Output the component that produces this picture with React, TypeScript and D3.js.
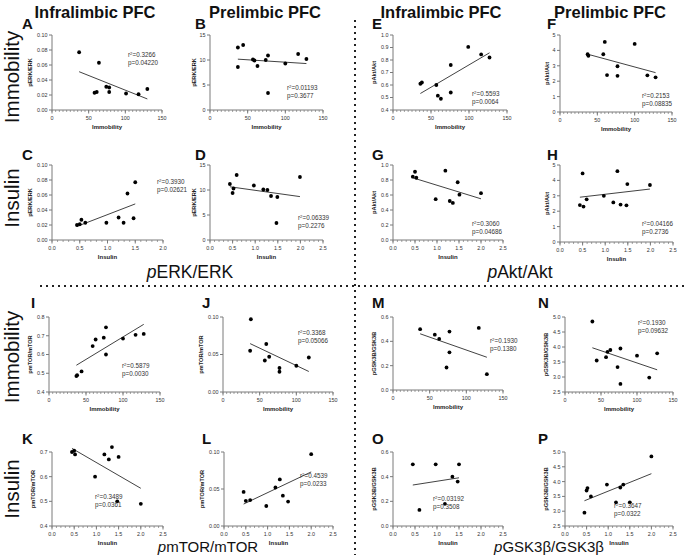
import * as d3 from 'd3';

const FONT = '"Liberation Sans", Arial, Helvetica, sans-serif';

// tick values
const immobilityTicks = [0, 50, 100, 150];
const insulinTicks20 = [0, 0.5, 1.0, 1.5, 2.0];
const insulinTicks25 = [0, 0.5, 1.0, 1.5, 2.0, 2.5];
const erkRatioTicks = [0, 0.02, 0.04, 0.06, 0.08, 0.1];
const erkTicks = [0, 5, 10, 15];
const aktImmTicks = [0.4, 0.5, 0.6, 0.7, 0.8, 0.9, 1.0];
const aktTicks = [0, 1, 2, 3, 4, 5];
const aktInsTicks = [0, 0.2, 0.4, 0.6, 0.8, 1.0];
const mtorImmTicks = [0.4, 0.5, 0.6, 0.7, 0.8];
const mtorTicks = [0, 0.05, 0.1];
const mtorInsTicks = [0.4, 0.5, 0.6, 0.7];
const gskTicks = [0, 0.2, 0.4, 0.6];
const gskHighTicks = [2.5, 3.0, 3.5, 4.0, 4.5, 5.0];

// [x, y] points
const pointsA = [[37, 0.077], [58, 0.023], [61, 0.024], [64, 0.063], [74, 0.031], [78, 0.03], [78, 0.024], [101, 0.022], [118, 0.021], [130, 0.028]];
const pointsB = [[37, 12.5], [37, 8.6], [44, 13.0], [57, 10.1], [59, 9.9], [63, 8.8], [74, 10.0], [77, 10.9], [77, 3.4], [100, 9.3], [117, 11.2], [128, 10.2]];
const pointsC = [[0.45, 0.02], [0.5, 0.021], [0.53, 0.027], [0.6, 0.023], [0.98, 0.023], [1.2, 0.03], [1.29, 0.023], [1.36, 0.062], [1.47, 0.029], [1.5, 0.077]];
const pointsD = [[0.44, 11.2], [0.5, 9.4], [0.52, 10.3], [0.59, 13.0], [0.97, 10.9], [1.18, 10.1], [1.27, 10.0], [1.35, 8.8], [1.49, 8.6], [1.47, 3.4], [1.99, 12.6]];
const pointsE = [[36, 0.61], [38, 0.62], [57, 0.6], [59, 0.515], [63, 0.49], [76, 0.76], [76, 0.54], [99, 0.905], [116, 0.845], [127, 0.82]];
const pointsF = [[37, 3.75], [38, 3.65], [58, 3.75], [60, 4.55], [63, 2.4], [77, 2.97], [77, 2.35], [100, 4.42], [117, 2.38], [128, 2.25]];
const pointsG = [[0.45, 0.845], [0.5, 0.91], [0.53, 0.83], [0.97, 0.545], [1.19, 0.925], [1.29, 0.52], [1.36, 0.495], [1.47, 0.77], [1.51, 0.605], [2.0, 0.625]];
const pointsH = [[0.44, 2.4], [0.5, 4.45], [0.52, 2.3], [0.59, 2.77], [0.97, 3.0], [1.18, 2.57], [1.27, 4.6], [1.34, 2.43], [1.47, 2.38], [1.49, 3.76], [1.99, 3.7]];
const pointsI = [[37, 0.485], [38, 0.49], [44, 0.51], [59, 0.645], [63, 0.68], [74, 0.69], [77, 0.745], [77, 0.6], [100, 0.685], [117, 0.705], [128, 0.71]];
const pointsJ = [[37, 0.055], [38, 0.097], [57, 0.042], [59, 0.064], [63, 0.047], [77, 0.032], [77, 0.027], [100, 0.035], [117, 0.046]];
const pointsK = [[0.45, 0.7], [0.5, 0.705], [0.52, 0.69], [0.97, 0.6], [1.18, 0.69], [1.28, 0.67], [1.35, 0.72], [1.47, 0.5], [1.5, 0.68], [2.0, 0.49]];
const pointsL = [[0.45, 0.046], [0.5, 0.034], [0.6, 0.035], [0.97, 0.027], [1.18, 0.052], [1.28, 0.063], [1.35, 0.041], [1.47, 0.033], [2.0, 0.097]];
const pointsM = [[37, 0.5], [57, 0.455], [63, 0.42], [73, 0.185], [77, 0.48], [77, 0.31], [117, 0.51], [128, 0.13]];
const pointsN = [[38, 4.85], [44, 3.55], [57, 3.66], [59, 3.84], [63, 3.9], [73, 3.33], [77, 3.95], [77, 2.77], [100, 3.71], [117, 2.98], [128, 3.79]];
const pointsO = [[0.45, 0.5], [0.6, 0.13], [0.97, 0.5], [1.18, 0.18], [1.35, 0.4], [1.47, 0.36], [1.5, 0.5]];
const pointsP = [[0.45, 2.95], [0.5, 3.7], [0.52, 3.78], [0.6, 3.5], [0.97, 3.9], [1.18, 3.3], [1.28, 3.8], [1.35, 3.9], [1.5, 3.3], [2.0, 4.85]];

// r squared / p values as printed
const r2Values = { A: '0.3266', B: '0.01193', C: '0.3930', D: '0.06339', E: '0.5593', F: '0.2153', G: '0.3060', H: '0.04166', I: '0.5879', J: '0.3368', K: '0.3489', L: '0.4539', M: '0.1930', N: '0.1930', O: '0.03192', P: '0.3647' };
const pValues = { A: '0.04220', B: '0.3677', C: '0.02621', D: '0.2276', E: '0.0064', F: '0.08835', G: '0.04686', H: '0.2736', I: '0.0030', J: '0.05066', K: '0.0361', L: '0.0233', M: '0.1380', N: '0.09632', O: '0.3508', P: '0.0322' };

const headers = ['Infralimbic PFC', 'Prelimbic PFC', 'Infralimbic PFC', 'Prelimbic PFC'];
const rowNames = ['Immobility', 'Insulin', 'Immobility', 'Insulin'];

type Spec = {
  id: string; pts: number[][]; x0: number; x1: number; y0: number; y1: number;
  xTicks: number[]; xMinor: number; xDec: number; yTicks: number[]; yDec: number;
  yTitle: string; xTitle: string; lx: number; ly: number; sx: number; sy: number;
};

const panels: Spec[] = [
  { id: 'A', pts: pointsA, x0: 52, x1: 162, y0: 35, y1: 110, xTicks: immobilityTicks, xMinor: 5, xDec: 0, yTicks: erkRatioTicks, yDec: 2, yTitle: 'pERK/ERK', xTitle: 'Immobility', lx: 22, ly: 29, sx: 128, sy: 57 },
  { id: 'B', pts: pointsB, x0: 210, x1: 323, y0: 35, y1: 110, xTicks: immobilityTicks, xMinor: 5, xDec: 0, yTicks: erkTicks, yDec: 0, yTitle: 'pERK/ERK', xTitle: 'Immobility', lx: 195, ly: 29, sx: 287, sy: 90 },
  { id: 'E', pts: pointsE, x0: 393, x1: 507, y0: 35, y1: 110, xTicks: immobilityTicks, xMinor: 5, xDec: 0, yTicks: aktImmTicks, yDec: 1, yTitle: 'pAkt/Akt', xTitle: 'Immobility', lx: 372, ly: 29, sx: 472, sy: 96 },
  { id: 'F', pts: pointsF, x0: 560, x1: 672, y0: 35, y1: 112, xTicks: immobilityTicks, xMinor: 5, xDec: 0, yTicks: aktTicks, yDec: 0, yTitle: 'pAkt/Akt', xTitle: 'Immobility', lx: 547, ly: 29, sx: 642, sy: 98 },
  { id: 'C', pts: pointsC, x0: 52, x1: 163, y0: 165, y1: 240, xTicks: insulinTicks20, xMinor: 0.1, xDec: 1, yTicks: erkRatioTicks, yDec: 2, yTitle: 'pERK/ERK', xTitle: 'Insulin', lx: 22, ly: 160, sx: 157, sy: 184 },
  { id: 'D', pts: pointsD, x0: 210, x1: 323, y0: 165, y1: 240, xTicks: insulinTicks25, xMinor: 0.1, xDec: 1, yTicks: erkTicks, yDec: 0, yTitle: 'pERK/ERK', xTitle: 'Insulin', lx: 195, ly: 160, sx: 298, sy: 220 },
  { id: 'G', pts: pointsG, x0: 393, x1: 503, y0: 165, y1: 240, xTicks: insulinTicks25, xMinor: 0.1, xDec: 1, yTicks: aktInsTicks, yDec: 1, yTitle: 'pAkt/Akt', xTitle: 'Insulin', lx: 372, ly: 160, sx: 472, sy: 226 },
  { id: 'H', pts: pointsH, x0: 560, x1: 673, y0: 165, y1: 242, xTicks: insulinTicks25, xMinor: 0.1, xDec: 1, yTicks: aktTicks, yDec: 0, yTitle: 'pAkt/Akt', xTitle: 'Insulin', lx: 547, ly: 160, sx: 642, sy: 226 },
  { id: 'I', pts: pointsI, x0: 49, x1: 160, y0: 317, y1: 392, xTicks: immobilityTicks, xMinor: 5, xDec: 0, yTicks: mtorImmTicks, yDec: 1, yTitle: 'pmTOR/mTOR', xTitle: 'Immobility', lx: 31, ly: 308, sx: 122, sy: 368 },
  { id: 'J', pts: pointsJ, x0: 223, x1: 333, y0: 317, y1: 392, xTicks: immobilityTicks, xMinor: 5, xDec: 0, yTicks: mtorTicks, yDec: 2, yTitle: 'pmTOR/mTOR', xTitle: 'Immobility', lx: 202, ly: 308, sx: 298, sy: 335 },
  { id: 'M', pts: pointsM, x0: 393, x1: 503, y0: 317, y1: 390, xTicks: immobilityTicks, xMinor: 5, xDec: 0, yTicks: gskTicks, yDec: 1, yTitle: 'pGSK3B/GSK3B', xTitle: 'Immobility', lx: 372, ly: 308, sx: 490, sy: 343 },
  { id: 'N', pts: pointsN, x0: 565, x1: 673, y0: 317, y1: 392, xTicks: immobilityTicks, xMinor: 5, xDec: 0, yTicks: gskHighTicks, yDec: 1, yTitle: 'pGSK3B/GSK3B', xTitle: 'Immobility', lx: 538, ly: 308, sx: 638, sy: 325 },
  { id: 'K', pts: pointsK, x0: 52, x1: 163, y0: 452, y1: 526, xTicks: insulinTicks25, xMinor: 0.1, xDec: 1, yTicks: mtorInsTicks, yDec: 1, yTitle: 'pmTOR/mTOR', xTitle: 'Insulin', lx: 22, ly: 444, sx: 95, sy: 499 },
  { id: 'L', pts: pointsL, x0: 224, x1: 333, y0: 452, y1: 526, xTicks: insulinTicks25, xMinor: 0.1, xDec: 1, yTicks: mtorTicks, yDec: 2, yTitle: 'pmTOR/mTOR', xTitle: 'Insulin', lx: 202, ly: 444, sx: 300, sy: 478 },
  { id: 'O', pts: pointsO, x0: 393, x1: 503, y0: 452, y1: 526, xTicks: insulinTicks25, xMinor: 0.1, xDec: 1, yTicks: gskTicks, yDec: 1, yTitle: 'pGSK3B/GSK3B', xTitle: 'Insulin', lx: 372, ly: 444, sx: 433, sy: 501 },
  { id: 'P', pts: pointsP, x0: 565, x1: 673, y0: 452, y1: 526, xTicks: insulinTicks25, xMinor: 0.1, xDec: 1, yTicks: gskHighTicks, yDec: 1, yTitle: 'pGSK3B/GSK3B', xTitle: 'Insulin', lx: 538, ly: 444, sx: 614, sy: 508 },
];

const AXIS = '#7a7a7a';

function Panel({ p }: { p: Spec }) {
  const xDom = [p.xTicks[0], p.xTicks[p.xTicks.length - 1]];
  const yDom = [p.yTicks[0], p.yTicks[p.yTicks.length - 1]];
  const x = d3.scaleLinear().domain(xDom).range([p.x0, p.x1]);
  const y = d3.scaleLinear().domain(yDom).range([p.y1, p.y0]);
  const minor = d3.range(Math.round((xDom[1] - xDom[0]) / p.xMinor) + 1).map((i) => xDom[0] + i * p.xMinor);

  // least squares fit
  const xs = p.pts.map((d) => d[0]);
  const ys = p.pts.map((d) => d[1]);
  const mx = d3.mean(xs) as number;
  const my = d3.mean(ys) as number;
  const slope = d3.sum(p.pts, (d) => (d[0] - mx) * (d[1] - my)) / d3.sum(xs, (v) => (v - mx) ** 2);
  const icpt = my - slope * mx;
  const [xa, xb] = d3.extent(xs) as [number, number];
  const fit = d3.line()([[x(xa), y(icpt + slope * xa)], [x(xb), y(icpt + slope * xb)]]) as string;

  const yLabelW = (d3.max(p.yTicks, (t) => t.toFixed(p.yDec).length) as number) * 2.9;
  const titleX = p.x0 - 5 - yLabelW - 3;
  const yMid = (p.y0 + p.y1) / 2;

  return (
    <g>
      <text x={p.lx} y={p.ly} fontSize={15} fontWeight="bold" fill="#111">{p.id}</text>
      {/* y axis */}
      <line x1={p.x0} x2={p.x0} y1={p.y0} y2={p.y1} stroke={AXIS} strokeWidth={1} />
      {p.yTicks.map((t) => (
        <g key={'y' + t}>
          <line x1={p.x0 - 3} x2={p.x0} y1={y(t)} y2={y(t)} stroke={AXIS} strokeWidth={1} />
          <text x={p.x0 - 4.5} y={y(t) + 1.9} fontSize={5.4} textAnchor="end" fill="#333">{t.toFixed(p.yDec)}</text>
        </g>
      ))}
      {/* x axis */}
      <line x1={p.x0} x2={p.x1} y1={p.y1} y2={p.y1} stroke={AXIS} strokeWidth={1} />
      {minor.map((t, i) => (
        <line key={'m' + i} x1={x(t)} x2={x(t)} y1={p.y1} y2={p.y1 + 2} stroke={AXIS} strokeWidth={0.7} />
      ))}
      {p.xTicks.map((t) => (
        <g key={'x' + t}>
          <line x1={x(t)} x2={x(t)} y1={p.y1} y2={p.y1 + 3.5} stroke={AXIS} strokeWidth={1} />
          <text x={x(t)} y={p.y1 + 9.5} fontSize={5.4} textAnchor="middle" fill="#333">{t.toFixed(p.xDec)}</text>
        </g>
      ))}
      <text x={(p.x0 + p.x1) / 2} y={p.y1 + 18.5} fontSize={6} fontWeight="bold" textAnchor="middle" fill="#222">{p.xTitle}</text>
      <text transform={`translate(${titleX},${yMid}) rotate(-90)`} fontSize={5.6} fontWeight="bold" textAnchor="middle" fill="#222">{p.yTitle}</text>
      {/* fit + points */}
      <path d={fit} stroke="#111" strokeWidth={0.8} fill="none" />
      {p.pts.map((d, i) => (
        <circle key={i} cx={x(d[0])} cy={y(d[1])} r={1.9} fill="#000" />
      ))}
      <text x={p.sx} y={p.sy} fontSize={6.3} fill="#333">
        r<tspan fontSize={4.2} dy={-2.4}>2</tspan><tspan dy={2.4}>={r2Values[p.id as keyof typeof r2Values]}</tspan>
      </text>
      <text x={p.sx} y={p.sy + 7.6} fontSize={6.3} fill="#333">p={pValues[p.id as keyof typeof pValues]}</text>
    </g>
  );
}

export default function App() {
  const headerX = [95, 265, 441, 610];
  const rowY = [77, 198, 357, 489];
  return (
    <svg width={685} height={555} style={{ position: 'absolute', left: 0, top: 0, background: '#fff' }} fontFamily={FONT}>
      {/* column headers */}
      {headers.map((t, i) => (
        <text key={i} x={headerX[i]} y={18} fontSize={16.5} fontWeight="bold" textAnchor="middle" fill="#111">{t}</text>
      ))}
      {/* row labels */}
      {rowNames.map((t, i) => (
        <text key={i} transform={`translate(19,${rowY[i]}) rotate(-90)`} fontSize={20.5} textAnchor="middle" fill="#111">{t}</text>
      ))}
      {/* group labels */}
      <text x={190} y={278} fontSize={17.5} textAnchor="middle" fill="#111"><tspan fontStyle="italic">p</tspan>ERK/ERK</text>
      <text x={520} y={278} fontSize={17.5} textAnchor="middle" fill="#111"><tspan fontStyle="italic">p</tspan>Akt/Akt</text>
      <text x={208} y={551.5} fontSize={15} textAnchor="middle" fill="#111"><tspan fontStyle="italic">p</tspan>mTOR/mTOR</text>
      <text x={549} y={551.5} fontSize={15} textAnchor="middle" fill="#111"><tspan fontStyle="italic">p</tspan>GSK3β/GSK3β</text>
      {/* dotted separators */}
      <line x1={40} x2={685} y1={286} y2={286} stroke="#222" strokeWidth={2} strokeDasharray="2 4" />
      <line x1={355} x2={355} y1={20} y2={555} stroke="#222" strokeWidth={2} strokeDasharray="2 4" />
      {panels.map((p) => <Panel key={p.id} p={p} />)}
    </svg>
  );
}
